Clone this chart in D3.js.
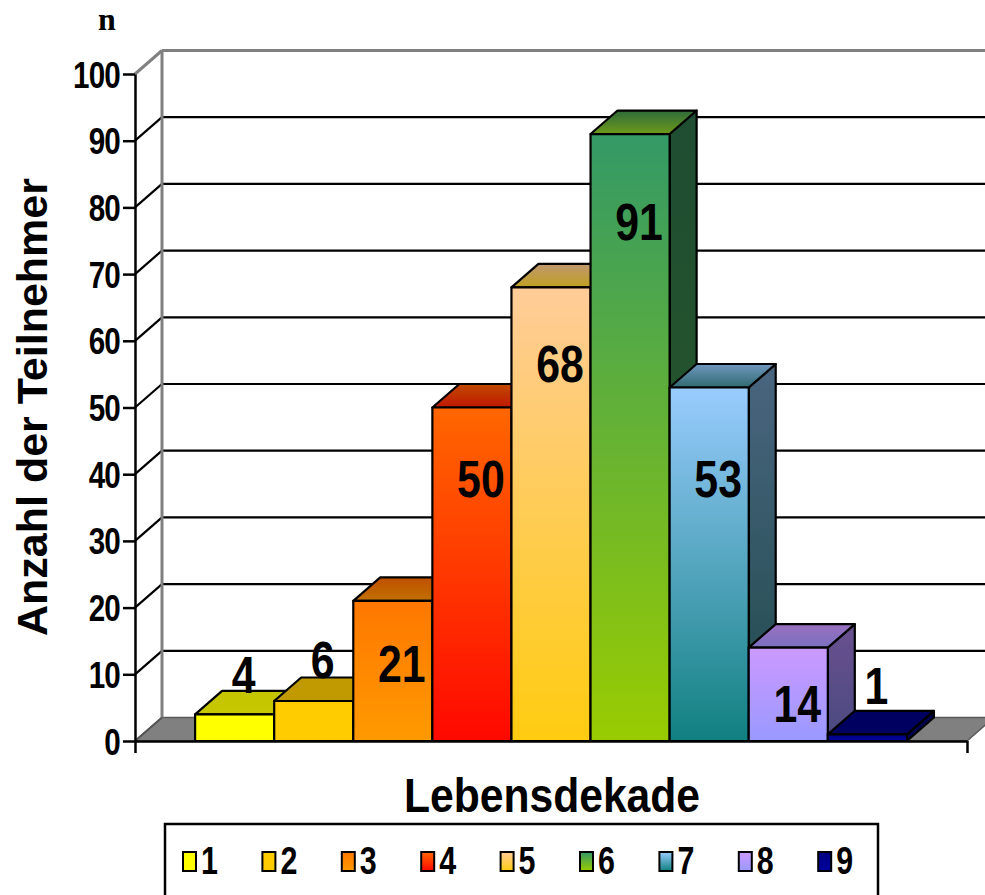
<!DOCTYPE html>
<html><head><meta charset="utf-8">
<script src="https://cdn.jsdelivr.net/npm/d3@7/dist/d3.min.js"></script>
<style>
body{margin:0;background:#fff}
svg{display:block}
text{font-family:"Liberation Sans",Arial,Helvetica,sans-serif;font-weight:bold;fill:#000}
</style>
</head><body>
<svg id="c" width="985" height="895"></svg>
<script>
// ---- data ----
const series = ["1","2","3","4","5","6","7","8","9"];
const values = [4, 6, 21, 50, 68, 91, 53, 14, 1];
const labelAt = [10.0, 12.2, 11.6, 39.4, 56.6, 77.9, 39.4, 5.6, 8.3];
const yTicks = [0,10,20,30,40,50,60,70,80,90,100];
const yTitle = "Anzahl der Teilnehmer";
const xTitle = "Lebensdekade";
const unitLabel = "n";

// ---- colours ----
const frontTop    = ["#FFFF00","#FFCC00","#FF7700","#FF6600","#FFCC99","#339966","#99CCFF","#CC99FF","#000080"];
const frontBottom = ["#FFFF00","#FFCC00","#FF9A00","#FF0800","#FFCC10","#99CC00","#108080","#9999FF","#0000A0"];
const topBack     = ["#C4C400","#C09A00","#C05000","#C04A00","#C09870","#2E6B3A","#7098C0","#9A70C0","#000060"];
const topFront    = ["#C8C800","#C09A00","#C07000","#C01800","#C0A020","#6E9A1A","#306A70","#7A70C0","#000060"];
const sideTop     = ["#A0A000","#A08000","#B05000","#B03000","#A08060","#1E4D32","#4A6580","#6A5090","#000050"];
const sideBottom  = ["#A0A000","#A08000","#B06000","#A00000","#A09000","#2C5A28","#1E4A4A","#4A4A80","#000050"];

const svg = d3.select("#c");
const DX = 27, DY = -23.5;
const y = d3.scaleLinear().domain([0,100]).range([741, 74]);
const x = d3.scaleBand().domain(series).range([135, 967]).paddingInner(0).paddingOuter(0.76);
const xEnds = d3.scaleLinear().domain([0,1]).range([135, 967]);
const bw = x.bandwidth();

// gradients
const defs = svg.append("defs");
function grad(id, c1, c2){
  const g = defs.append("linearGradient").attr("id", id)
    .attr("x1",0).attr("y1",0).attr("x2",0).attr("y2",1);
  g.append("stop").attr("offset","0%").attr("stop-color",c1);
  g.append("stop").attr("offset","100%").attr("stop-color",c2);
}
series.forEach((s,i)=>{
  grad("gf"+i, frontTop[i], frontBottom[i]);
  grad("gt"+i, topBack[i], topFront[i]);
  grad("gs"+i, sideTop[i], sideBottom[i]);
});

// floor
const y0 = y(0);
svg.append("polygon")
  .attr("points", [[xEnds(0),y0],[xEnds(1),y0],[xEnds(1)+DX,y0+DY],[xEnds(0)+DX,y0+DY]].map(p=>p.join(",")).join(" "))
  .attr("fill","#808080").attr("stroke","#5a5a5a").attr("stroke-width",1.5);

// back wall gridlines + side diagonals
const grid = svg.append("g");
yTicks.filter(t=>t>0).forEach(t=>{
  const col = t===100 ? "#808080" : "#000";
  grid.append("line").attr("x1", xEnds(0)+DX).attr("x2", 1000)
    .attr("y1", y(t)+DY).attr("y2", y(t)+DY).attr("stroke", col).attr("stroke-width", t===100?3:2.2);
  grid.append("line").attr("x1", xEnds(0)).attr("x2", xEnds(0)+DX)
    .attr("y1", y(t)).attr("y2", y(t)+DY).attr("stroke", col).attr("stroke-width", t===100?3:2.2);
});
grid.append("line").attr("x1", xEnds(0)+DX).attr("x2", xEnds(0)+DX)
  .attr("y1", y(100)+DY).attr("y2", y(0)+DY).attr("stroke","#808080").attr("stroke-width",3);
grid.append("line").attr("x1", xEnds(0)).attr("x2", xEnds(0)+DX)
  .attr("y1", y(0)).attr("y2", y(0)+DY).attr("stroke","#555").attr("stroke-width",2);

// bars
const bars = svg.append("g").attr("stroke","#000").attr("stroke-width",2.2).attr("stroke-linejoin","round");
series.forEach((s,i)=>{
  const x0 = x(s), x1 = x0 + bw, yt = y(values[i]), yb = y(0);
  const g = bars.append("g");
  g.append("polygon").attr("fill","url(#gs"+i+")")
    .attr("points",[[x1,yb],[x1+DX,yb+DY],[x1+DX,yt+DY],[x1,yt]].map(p=>p.join(",")).join(" "));
  g.append("polygon").attr("fill","url(#gt"+i+")")
    .attr("points",[[x0,yt],[x1,yt],[x1+DX,yt+DY],[x0+DX,yt+DY]].map(p=>p.join(",")).join(" "));
  g.append("rect").attr("fill","url(#gf"+i+")")
    .attr("x",x0).attr("y",yt).attr("width",bw).attr("height",yb-yt);
});

// axes
const yAxis = svg.append("g").attr("transform","translate("+xEnds(0)+",0)")
  .call(d3.axisLeft(y).tickValues(yTicks).tickSize(12).tickSizeOuter(0));
yAxis.select(".domain").attr("stroke","#000").attr("stroke-width",2.5);
yAxis.selectAll(".tick line").attr("stroke","#000").attr("stroke-width",2.5);
yAxis.selectAll(".tick text")
  .attr("x",null).attr("dy",null)
  .attr("transform","translate(-15,13) scale(0.8,1)")
  .style("font-size","37px").style("font-family",'"Liberation Sans",Arial,sans-serif').style("font-weight","bold")
  .style("letter-spacing","-1px")
  .attr("fill","#000");

const xAxis = svg.append("g").attr("transform","translate(0,"+y0+")")
  .call(d3.axisBottom(xEnds).tickValues([0,1]).tickSize(12).tickSizeOuter(0).tickFormat(""));
xAxis.select(".domain").attr("stroke","#000").attr("stroke-width",2.5);
xAxis.selectAll(".tick line").attr("stroke","#000").attr("stroke-width",2.5);

// value labels
svg.append("g").selectAll("text").data(series).join("text")
  .attr("transform",(s,i)=>"translate("+(x(s)+bw/2+9)+","+(y(labelAt[i]))+") scale(0.84,1)")
  .attr("dy","0.36em").attr("text-anchor","middle")
  .style("font-size","51px")
  .text((s,i)=>values[i]);

// titles
svg.append("text").attr("transform","translate(47,407) rotate(-90)")
  .attr("text-anchor","middle").style("font-size","43px").text(yTitle);
svg.append("text").attr("transform","translate(552,812) scale(0.87,1)")
  .attr("text-anchor","middle").style("font-size","49px").text(xTitle);
svg.append("text").attr("x",107).attr("y",30).attr("text-anchor","middle")
  .style("font-family",'"Liberation Serif","Times New Roman",serif').style("font-size","32px").text(unitLabel);

// legend
const leg = svg.append("g");
leg.append("rect").attr("x",165).attr("y",824).attr("width",713).attr("height",110)
  .attr("fill","#fff").attr("stroke","#000").attr("stroke-width",2.5);
const li = leg.selectAll("g.it").data(series).join("g").attr("class","it")
  .attr("transform",(s,i)=>"translate("+(183+i*79.4)+",852)");
li.append("rect").attr("width",13).attr("height",19)
  .attr("fill",(s,i)=>"url(#gf"+i+")").attr("stroke","#000").attr("stroke-width",2);
li.append("text").attr("transform","translate(18,22) scale(0.8,1)")
  .style("font-size","38px").text(s=>s);
</script>
</body></html>
